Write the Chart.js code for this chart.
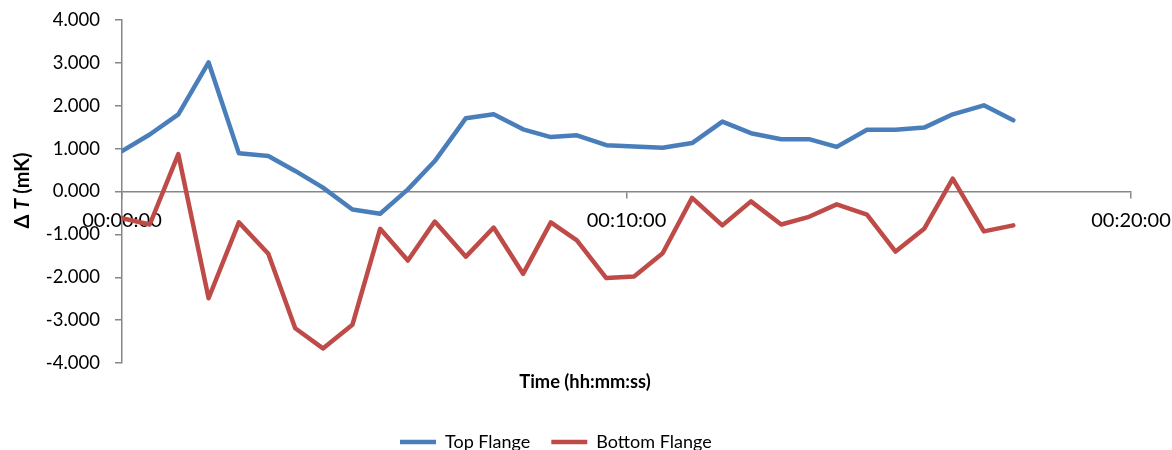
<!DOCTYPE html>
<html>
<head>
<meta charset="utf-8">
<script src="https://cdn.jsdelivr.net/npm/chart.js@4.4.1/dist/chart.umd.min.js"></script>
<style>
  html, body { margin: 0; padding: 0; background: #ffffff; }
  #wrap { width: 1172px; height: 450px; }
</style>
</head>
<body>
<div id="wrap"><canvas id="chart" width="1172" height="450"></canvas></div>
<script>
// Sample times, seconds since start of the record
const elapsedSeconds = [0, 33, 67, 103, 139, 174, 206, 239, 274, 307, 340, 372, 409, 442, 477, 510,
                        541, 576, 609, 643, 678, 714, 748, 784, 817, 850, 886, 920, 954, 988, 1025, 1060];

// Temperature change, mK
const topFlange = [0.94, 1.33, 1.80, 3.01, 0.89, 0.83, 0.48, 0.09, -0.42, -0.52, 0.05, 0.71, 1.71, 1.80, 1.45, 1.27,
                   1.31, 1.08, 1.05, 1.02, 1.13, 1.63, 1.36, 1.22, 1.22, 1.04, 1.44, 1.44, 1.49, 1.80, 2.01, 1.66];
const bottomFlange = [-0.62, -0.77, 0.87, -2.49, -0.72, -1.45, -3.19, -3.66, -3.11, -0.87, -1.61, -0.70, -1.52, -0.84, -1.92, -0.72,
                      -1.14, -2.02, -1.98, -1.44, -0.15, -0.79, -0.23, -0.77, -0.59, -0.30, -0.54, -1.40, -0.87, 0.30, -0.93, -0.79];

const seriesNames = ['Top Flange', 'Bottom Flange'];
const xTickSeconds = [0, 600, 1200];
const yTickValues = [-4, -3, -2, -1, 0, 1, 2, 3, 4];
const xTitle = 'Time (hh:mm:ss)';

const FONT = 'Lato';
const AXIS_GREY = '#868686';
// Target plot rectangle on the canvas
const PLOT = { left: 122, top: 20, right: 1131, bottom: 363 };

function hms(sec) {
  const h = Math.floor(sec / 3600), m = Math.floor((sec % 3600) / 60), s = Math.round(sec % 60);
  return [h, m, s].map(n => String(n).padStart(2, '0')).join(':');
}

// Places the legend row at a fixed spot below the axis title
const legendPlacement = {
  id: 'legendPlacement',
  afterUpdate(chart) {
    const lg = chart.legend;
    if (!lg || !lg.legendHitBoxes || !lg.legendHitBoxes.length) return;
    const pad = lg.options.labels.padding;
    const dx = 400 - lg.legendHitBoxes[0].left;
    const dy = 442 - (lg.top + pad + 9);
    lg.left += dx; lg.right += dx; lg.top += dy; lg.bottom += dy;
    lg.legendHitBoxes.forEach(h => { h.left += dx; h.top += dy; });
  }
};

// Axis titles: the y title mixes an italic symbol into bold text
const axisTitles = {
  id: 'axisTitles',
  afterDraw(chart) {
    const ctx = chart.ctx;
    ctx.save();
    ctx.fillStyle = '#000000';
    ctx.font = `bold 18.3px ${FONT}`;
    ctx.textAlign = 'center';
    ctx.textBaseline = 'alphabetic';
    ctx.fillText(xTitle, 585, 388);

    const parts = [
      { text: 'Δ ', font: `bold 20px ${FONT}` },
      { text: 'T', font: `italic bold 20px ${FONT}` },
      { text: ' (mK)', font: `bold 20px ${FONT}` }
    ];
    let total = 0;
    parts.forEach(p => { ctx.font = p.font; p.w = ctx.measureText(p.text).width; total += p.w; });
    ctx.translate(23, 190.5);
    ctx.rotate(-Math.PI / 2);
    ctx.textAlign = 'left';
    ctx.textBaseline = 'middle';
    let x = -total / 2;
    parts.forEach(p => { ctx.font = p.font; ctx.fillText(p.text, x, 0); x += p.w; });
    ctx.restore();
  }
};

const seriesColors = ['#4A7EBB', '#BE4B48'];
const seriesValues = [topFlange, bottomFlange];

const chart = new Chart(document.getElementById('chart'), {
  type: 'line',
  data: {
    datasets: seriesNames.map((name, k) => ({
      label: name,
      data: elapsedSeconds.map((t, i) => ({ x: t, y: seriesValues[k][i] })),
      borderColor: seriesColors[k],
      backgroundColor: seriesColors[k],
      borderWidth: 4.5,
      borderCapStyle: 'round',
      borderJoinStyle: 'round',
      pointRadius: 0,
      pointHoverRadius: 0,
      tension: 0,
      fill: false
    }))
  },
  options: {
    responsive: false,
    animation: false,
    devicePixelRatio: 1,
    layout: { padding: { top: 20, left: 0, right: 41, bottom: 0 } },
    plugins: {
      tooltip: { enabled: false },
      legend: {
        position: 'bottom',
        labels: {
          usePointStyle: true,
          pointStyle: 'line',
          pointStyleWidth: 36,
          padding: 21,
          color: '#000000',
          font: { family: FONT, size: 18 }
        }
      }
    },
    scales: {
      x: {
        type: 'linear',
        min: xTickSeconds[0],
        max: xTickSeconds[xTickSeconds.length - 1],
        position: { y: 0 },
        z: 1,
        afterBuildTicks: s => { s.ticks = xTickSeconds.map(v => ({ value: v })); },
        afterFit: s => { s.paddingLeft = 0; s.paddingRight = 0; },
        ticks: {
          callback: v => hms(v),
          autoSkip: false,
          maxRotation: 0,
          padding: 11,
          color: '#000000',
          font: { family: FONT, size: 20 }
        },
        grid: { drawOnChartArea: false, drawTicks: true, tickLength: 6, color: AXIS_GREY, lineWidth: 1.5 },
        border: { display: true, color: AXIS_GREY, width: 1.5 }
      },
      y: {
        min: yTickValues[0],
        max: yTickValues[yTickValues.length - 1],
        afterBuildTicks: s => { s.ticks = yTickValues.map(v => ({ value: v })); },
        afterFit: s => { s.width = 122; s.paddingTop = 0; s.paddingBottom = 0; },
        ticks: {
          callback: v => v.toFixed(3),
          padding: 15,
          color: '#000000',
          font: { family: FONT, size: 18.5 }
        },
        grid: { drawOnChartArea: false, drawTicks: true, tickLength: 7, color: AXIS_GREY, lineWidth: 1.5 },
        border: { display: true, color: AXIS_GREY, width: 1.5 }
      }
    }
  },
  plugins: [legendPlacement, axisTitles]
});

// Nudge the layout padding until the plot rectangle sits where it should
for (let pass = 0; pass < 4; pass++) {
  const a = chart.chartArea, pad = chart.options.layout.padding;
  const dTop = PLOT.top - a.top, dRight = a.right - PLOT.right, dBottom = a.bottom - PLOT.bottom;
  if (!dTop && !dRight && !dBottom) break;
  pad.top += dTop; pad.right += dRight; pad.bottom += dBottom;
  chart.update('none');
}
</script>
</body>
</html>
